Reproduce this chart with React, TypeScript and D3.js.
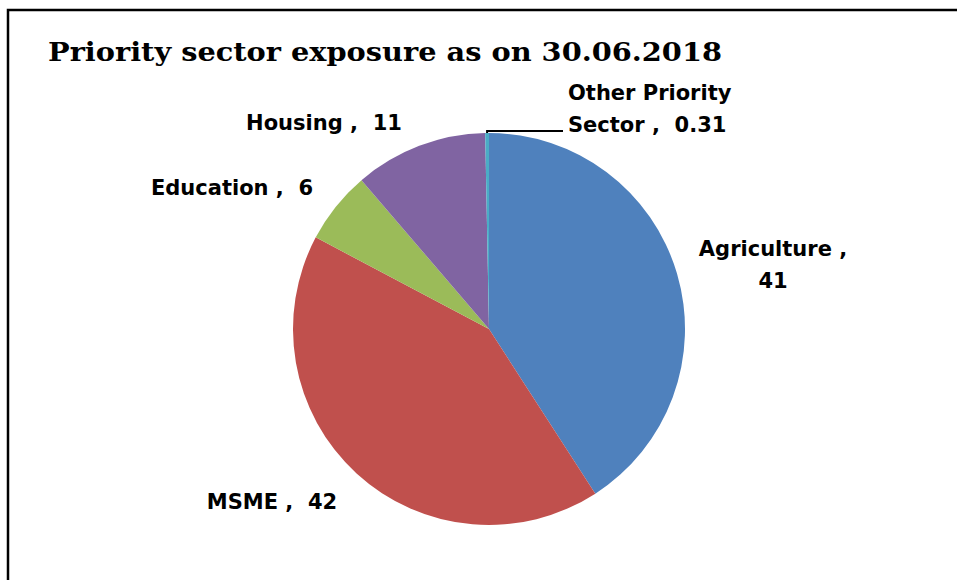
import * as d3 from "d3";

const categories = ["Agriculture", "MSME", "Education", "Housing", "Other Priority Sector"];
const values = [41, 42, 6, 11, 0.31];
const colors = ["#4F81BD", "#C0504D", "#9BBB59", "#8064A2", "#4BACC6"];

// label placement relative to pie centre; words kept on the first line
const labelLayout = [
  { x: 284, y: -73, anchor: "middle", firstLine: 2 },
  { x: -217, y: 180, anchor: "middle", firstLine: 99 },
  { x: -257, y: -134, anchor: "middle", firstLine: 99 },
  { x: -165, y: -199, anchor: "middle", firstLine: 99 },
  { x: 79, y: -229, anchor: "start", firstLine: 2 },
];

const W = 957;
const H = 580;
const cx = 489;
const cy = 329;
const R = 196;

export default function App() {
  const pie = d3.pie<number>().sort(null).value((d) => d);
  const arcs = pie(values);
  const arc = d3.arc<d3.PieArcDatum<number>>().innerRadius(0).outerRadius(R);

  const labels = arcs.map((a, i) => {
    const words = `${categories[i]} , ${values[i]}`.split(" ");
    const lay = labelLayout[i];
    const l1 = words.slice(0, lay.firstLine).join(" ");
    const l2 = words.slice(lay.firstLine).join(" ");
    const lines = (l2 ? [l1, l2] : [l1]).map((t) => t.replace(/ , /, " ,  ").replace(/ ,$/, " ,"));
    return { lay, lines };
  });

  // leader line for the thin slice
  const thin = arcs[4];
  const mid = (thin.startAngle + thin.endAngle) / 2;
  const lx = cx + Math.sin(mid) * R;
  const ly = cy - Math.cos(mid) * R;

  return (
    <svg
      width={W}
      height={H}
      style={{ position: "absolute", left: 0, top: 0, background: "#fff" }}
    >
      <path d={`M8,${H} L8,10 L${W},10`} fill="none" stroke="#000" strokeWidth={2.5} />
      <text
        x={48}
        y={61}
        fontFamily="'DejaVu Serif', serif"
        fontWeight="bold"
        fontSize={26}
        textLength={674}
        lengthAdjust="spacingAndGlyphs"
      >
        Priority sector exposure as on 30.06.2018
      </text>

      <g transform={`translate(${cx},${cy})`}>
        {arcs.map((a, i) => (
          <path key={i} d={arc(a) ?? ""} fill={colors[i]} />
        ))}
      </g>

      <polyline
        points={`${lx},${ly} ${lx},${ly - 2} ${cx + 74},${cy - 198}`}
        fill="none"
        stroke="#000"
        strokeWidth={2}
      />

      {labels.map((lb, i) => (
        <text
          key={i}
          x={cx + lb.lay.x}
          y={cy + lb.lay.y}
          textAnchor={lb.lay.anchor}
          fontFamily="'DejaVu Sans', sans-serif"
          fontWeight="bold"
          fontSize={21}
          fill="#000"
          style={{ whiteSpace: "pre" }}
        >
          {lb.lines.map((t, j) => (
            <tspan key={j} x={cx + lb.lay.x} dy={j === 0 ? 0 : 32}>
              {t}
            </tspan>
          ))}
        </text>
      ))}
    </svg>
  );
}
